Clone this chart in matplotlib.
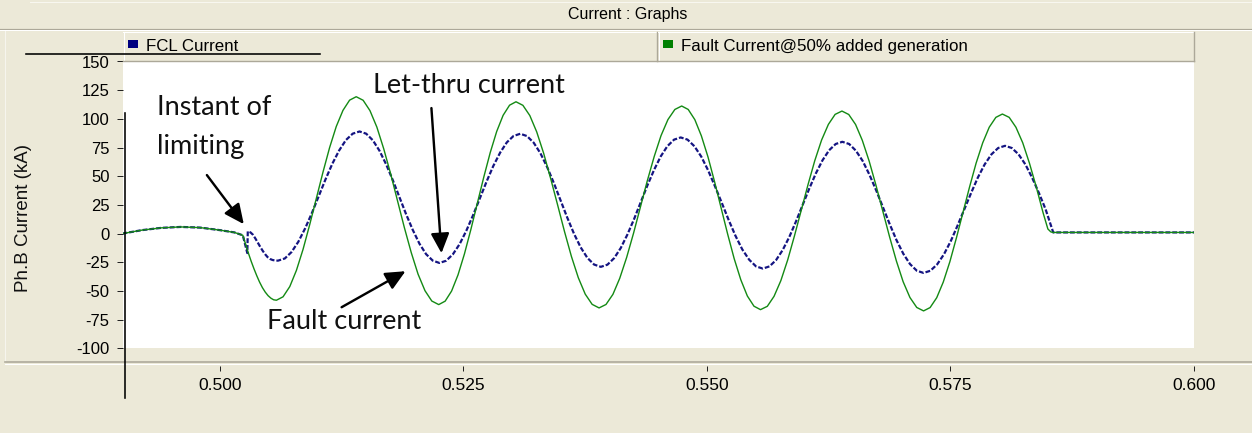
import matplotlib
matplotlib.use('Agg')
import matplotlib.pyplot as plt
from matplotlib.lines import Line2D
from matplotlib.patches import Rectangle

# ---------------- data ----------------
series_names = ['FCL Current', 'Fault Current@50% added generation']
chart_title = 'Current : Graphs'
y_label = 'Ph.B Current (kA)'
x_ticks = [0.500, 0.525, 0.550, 0.575, 0.600]
y_ticks = [-100, -75, -50, -25, 0, 25, 50, 75, 100, 125, 150]

fault_t = [0.4900, 0.4920, 0.4940, 0.4960, 0.4980, 0.5000, 0.5015,
           0.50236, 0.50265, 0.50293, 0.50322, 0.50351, 0.50380, 0.50408,
           0.50437, 0.50466, 0.50495, 0.50524, 0.50552, 0.50581,
           0.50649, 0.50718, 0.50786, 0.50854, 0.50922, 0.50991,
           0.51059, 0.51127, 0.51195, 0.51264, 0.51332, 0.51400,
           0.51471, 0.51541, 0.51612, 0.51682, 0.51753, 0.51824,
           0.51894, 0.51965, 0.52035, 0.52106, 0.52176, 0.52247,
           0.52313, 0.52379, 0.52445, 0.52511, 0.52577, 0.52644,
           0.52710, 0.52776, 0.52842, 0.52908, 0.52974, 0.53040,
           0.53111, 0.53182, 0.53253, 0.53324, 0.53395, 0.53467,
           0.53538, 0.53609, 0.53680, 0.53751, 0.53822, 0.53893,
           0.53964, 0.54035, 0.54105, 0.54176, 0.54247, 0.54317,
           0.54388, 0.54459, 0.54529, 0.54600, 0.54671, 0.54741,
           0.54808, 0.54876, 0.54943, 0.55011, 0.55078, 0.55145,
           0.55213, 0.55280, 0.55348, 0.55415, 0.55483, 0.55550,
           0.55620, 0.55689, 0.55759, 0.55829, 0.55898, 0.55968,
           0.56038, 0.56107, 0.56177, 0.56247, 0.56316, 0.56386,
           0.56456, 0.56526, 0.56595, 0.56665, 0.56735, 0.56805,
           0.56875, 0.56945, 0.57014, 0.57084, 0.57154, 0.57224,
           0.57291, 0.57359, 0.57426, 0.57494, 0.57561, 0.57628,
           0.57696, 0.57763, 0.57831, 0.57898, 0.57966, 0.58033,
           0.58103, 0.58172, 0.58242, 0.58311, 0.58381, 0.58450,
           0.58500, 0.58530, 0.58550, 0.6000]
fault_i = [0.0, 3.0, 5.0, 5.8, 5.2, 3.0, 1.0,
           -1.5, -9.4, -17.0, -24.2, -30.8, -36.9, -42.3,
           -47.1, -51.0, -54.1, -56.3, -57.7, -58.1,
           -55.1, -46.2, -32.1, -13.8, 7.6, 30.6,
           53.6, 75.0, 93.3, 107.4, 116.3, 119.3,
           116.2, 107.2, 92.8, 74.0, 52.2, 28.7,
           5.3, -16.6, -35.4, -49.8, -58.8, -61.9,
           -58.9, -50.1, -36.0, -17.7, 3.6, 26.5,
           49.4, 70.7, 89.0, 103.1, 111.9, 114.9,
           111.8, 102.9, 88.6, 70.0, 48.3, 25.1,
           1.8, -19.9, -38.5, -52.8, -61.7, -64.8,
           -61.8, -53.0, -39.0, -20.8, 0.4, 23.2,
           46.0, 67.2, 85.4, 99.4, 108.2, 111.2,
           108.2, 99.3, 85.2, 66.8, 45.4, 22.5,
           -0.5, -21.9, -40.3, -54.4, -63.3, -66.3,
           -63.4, -54.7, -41.0, -23.0, -2.2, 20.3,
           42.7, 63.5, 81.5, 95.2, 103.9, 106.8,
           103.8, 95.1, 81.3, 63.3, 42.2, 19.7,
           -2.8, -23.9, -41.9, -55.7, -64.4, -67.4,
           -64.5, -55.9, -42.3, -24.5, -3.8, 18.4,
           40.6, 61.3, 79.1, 92.7, 101.3, 104.2,
           101.3, 92.7, 79.1, 61.3, 40.6, 18.4,
           4.0, 1.5, 1.0, 1.0]

fcl_t = [0.4900, 0.4920, 0.4940, 0.4960, 0.4980, 0.5000, 0.5015,
         0.50236, 0.50282, 0.50287, 0.50315, 0.50340, 0.50365, 0.50390,
         0.50415, 0.50440, 0.50465, 0.50490, 0.50515, 0.50540, 0.50570, 0.50597,
         0.50667, 0.50736, 0.50806, 0.50876, 0.50946, 0.51016,
         0.51085, 0.51155, 0.51225, 0.51294, 0.51364, 0.51434,
         0.51502, 0.51571, 0.51639, 0.51707, 0.51776, 0.51844,
         0.51912, 0.51981, 0.52049, 0.52117, 0.52186, 0.52254,
         0.52323, 0.52392, 0.52462, 0.52531, 0.52600, 0.52669,
         0.52738, 0.52807, 0.52877, 0.52946, 0.53015, 0.53084,
         0.53153, 0.53222, 0.53291, 0.53360, 0.53429, 0.53498,
         0.53566, 0.53635, 0.53704, 0.53773, 0.53842, 0.53911,
         0.53979, 0.54048, 0.54116, 0.54184, 0.54253, 0.54321,
         0.54389, 0.54458, 0.54526, 0.54594, 0.54663, 0.54731,
         0.54801, 0.54872, 0.54942, 0.55012, 0.55082, 0.55153,
         0.55223, 0.55293, 0.55363, 0.55434, 0.55504, 0.55574,
         0.55642, 0.55710, 0.55778, 0.55846, 0.55914, 0.55982,
         0.56050, 0.56118, 0.56186, 0.56254, 0.56322, 0.56390,
         0.56460, 0.56529, 0.56599, 0.56668, 0.56738, 0.56807,
         0.56877, 0.56946, 0.57016, 0.57085, 0.57155, 0.57224,
         0.57294, 0.57363, 0.57433, 0.57503, 0.57572, 0.57642,
         0.57712, 0.57781, 0.57851, 0.57921, 0.57990, 0.58060,
         0.58130, 0.58199, 0.58269, 0.58338, 0.58408, 0.58477,
         0.58520, 0.58555, 0.6000]
fcl_i = [0.0, 3.0, 5.0, 5.8, 5.2, 3.0, 1.0,
         -1.5, -17.0, 2.0, 1.0, -1.0, -4.3, -8.0,
         -11.6, -15.0, -18.0, -20.5, -22.1, -23.0, -23.5, -23.6,
         -21.7, -16.1, -7.1, 4.6, 18.1, 32.7,
         47.3, 60.9, 72.5, 81.5, 87.1, 89.0,
         87.1, 81.3, 72.2, 60.4, 46.5, 31.7,
         16.9, 3.1, -8.8, -17.9, -23.6, -25.6,
         -23.7, -18.1, -9.1, 2.6, 16.1, 30.7,
         45.3, 58.9, 70.5, 79.5, 85.1, 87.0,
         85.0, 79.2, 70.0, 58.0, 44.0, 29.0,
         14.0, 0.0, -12.0, -21.2, -27.0, -29.0,
         -27.1, -21.4, -12.5, -0.8, 12.8, 27.4,
         42.0, 55.6, 67.3, 76.2, 81.9, 83.8,
         81.9, 76.1, 67.1, 55.2, 41.4, 26.7,
         11.9, -1.9, -13.8, -22.8, -28.6, -30.5,
         -28.6, -23.1, -14.3, -2.9, 10.5, 24.8,
         39.1, 52.4, 63.8, 72.6, 78.1, 80.0,
         78.1, 72.3, 63.3, 51.4, 37.6, 22.9,
         8.1, -5.7, -17.6, -26.6, -32.4, -34.3,
         -32.4, -26.9, -18.1, -6.6, 6.8, 21.1,
         35.4, 48.8, 60.3, 69.1, 74.6, 76.5,
         74.6, 69.1, 60.3, 48.8, 35.4, 21.1,
         10.0, 1.0, 1.0]

# annotations: (text, x, y) and arrows (tail -> head) in data units
notes = [('Instant of', 0.49354, 103.3), ('limiting', 0.49354, 69.3),
         ('Let-thru current', 0.51568, 122.3), ('Fault current', 0.50482, -83.4)]
arrows = [((0.49867, 51.0), (0.50246, 8.2)),
          ((0.52172, 109.4), (0.52275, -17.1)),
          ((0.51250, -64.2), (0.51906, -32.8))]

# ---------------- figure ----------------
W, H = 1252, 433
BG = '#ECE9D8'
GRAY = '#ACA899'
fig = plt.figure(figsize=(W / 100, H / 100), dpi=100)
fig.patch.set_facecolor(BG)


def fx(px):
    return px / W


def fy(py):
    return 1 - py / H


PX = 0.72  # points per pixel

ax = fig.add_axes([fx(123), fy(348.3), fx(1194) - fx(123), fy(61.5) - fy(348.3)])
ax.set_facecolor('white')
ax.plot(fcl_t, fcl_i, color='#141482', lw=2.2 * PX, ls=(0, (2.2, 0.9)), zorder=2)
ax.plot(fault_t, fault_i, color='#148a14', lw=1.4 * PX, zorder=3)
ax.set_xlim(0.49006, 0.5999)
ax.set_ylim(-100, 150)
for s in ax.spines.values():
    s.set_visible(False)
ax.spines['bottom'].set_position(('outward', 18 * PX))
ax.set_xticks(x_ticks)
ax.set_xticklabels(['%.3f' % v for v in x_ticks])
ax.set_yticks(y_ticks)
ax.set_yticklabels([str(v) for v in y_ticks])
ax.tick_params(axis='x', direction='out', length=5 * PX, width=1 * PX, pad=7 * PX,
               labelsize=12.5, colors='#222222', labelcolor='black')
ax.tick_params(axis='y', direction='out', length=6 * PX, width=1 * PX, pad=7.5 * PX,
               labelsize=12.0, colors='#222222', labelcolor='black')
for lab in ax.get_xticklabels() + ax.get_yticklabels():
    lab.set_fontfamily('Liberation Sans')

for txt, x, y in notes:
    ax.text(x, y, txt, fontsize=19.5, family=['Lato', 'DejaVu Sans'], ha='left',
            va='baseline', color='#111111', zorder=5)
for (x0, y0), (x1, y1) in arrows:
    ax.annotate('', xy=(x1, y1), xytext=(x0, y0),
                arrowprops=dict(arrowstyle='-|>,head_length=0.6,head_width=0.28',
                                lw=2.4 * PX, color='black', shrinkA=0, shrinkB=0,
                                mutation_scale=20), zorder=6)

# ---------------- window chrome ----------------
def hline(y, x0, x1, color, lw=1.0):
    fig.add_artist(Line2D([fx(x0), fx(x1)], [fy(y), fy(y)], color=color, lw=lw * PX))


def vline(x, y0, y1, color, lw=1.0):
    fig.add_artist(Line2D([fx(x), fx(x)], [fy(y0), fy(y1)], color=color, lw=lw * PX))


hline(1.5, 30, W, '#F8F7F0')
hline(28.5, 0, W, GRAY, 1.2)
hline(29.7, 0, W, 'white', 1.0)
fig.text(fx(628), fy(14), chart_title, ha='center', va='center', fontsize=11.5,
         family='Liberation Sans', color='black')

# legend boxes
boxes = [(123, 657), (658, 1194)]
marker_colors = ['#000080', '#008000']
for (x0, x1), name, mc in zip(boxes, series_names, marker_colors):
    hline(31.5, x0, x1, 'white', 1.0)
    vline(x0 + 0.5, 31.5, 61, 'white', 1.0)
    hline(60.8, x0, x1, GRAY, 1.4)
    vline(x1 - 0.5, 31.5, 61, GRAY, 1.4)
    fig.add_artist(Rectangle((fx(x0 + 4.5), fy(48)), fx(10.5), fy(40) - fy(48),
                             facecolor=mc, edgecolor='none'))
    fig.text(fx(x0 + 23), fy(46.5), name, ha='left', va='center', fontsize=12.2,
             family='Liberation Sans', color='black')

vline(5, 31, 362, '#F6F5EE', 1.0)
hline(362, 5, W, GRAY, 1.6)
hline(363.5, 5, W, 'white', 1.0)

# stray screen-capture strokes
hline(54, 26, 320, 'black', 1.6)
vline(125, 113, 398, 'black', 1.6)

fig.text(fx(23.5), fy(218.5), y_label, rotation=90, ha='center', va='center',
         fontsize=13.5, family='Liberation Sans', color='#111111')

fig.savefig('out.png', dpi=100, facecolor=BG)
